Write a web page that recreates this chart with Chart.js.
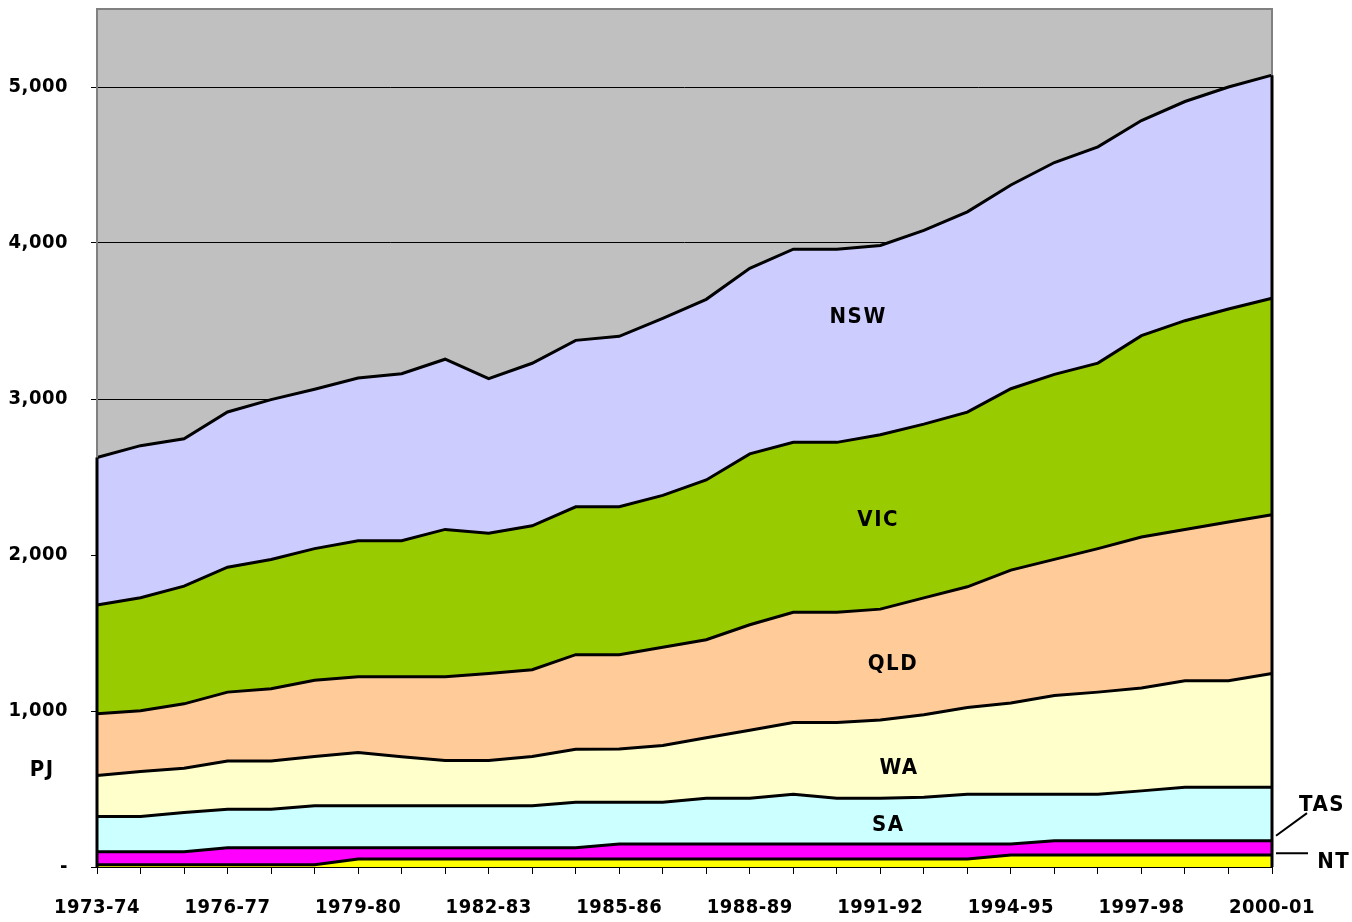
<!DOCTYPE html>
<html>
<head>
<meta charset="utf-8">
<script src="https://cdn.jsdelivr.net/npm/chart.js@4/dist/chart.umd.min.js"></script>
<style>
  html, body { margin: 0; padding: 0; background: #fff; }
  #wrap { width: 1352px; height: 922px; }
</style>
</head>
<body>
<div id="wrap"><canvas id="energyChart"></canvas></div>
<script>
// financial years on the x axis
const years = ["1973-74", "1974-75", "1975-76", "1976-77", "1977-78", "1978-79", "1979-80",
  "1980-81", "1981-82", "1982-83", "1983-84", "1984-85", "1985-86", "1986-87", "1987-88",
  "1988-89", "1989-90", "1990-91", "1991-92", "1992-93", "1993-94", "1994-95", "1995-96",
  "1996-97", "1997-98", "1998-99", "1999-00", "2000-01"];

// y axis ticks (PJ)
const yTicks = [0, 1000, 2000, 3000, 4000, 5000];

// energy use by state, PJ
const nt  = [15, 15, 15, 15, 15, 15, 51, 51, 51, 51, 51, 51, 51, 51, 51, 51, 51, 51, 51, 51, 51, 77, 77, 77, 77, 77, 77, 77];
const tas = [83, 83, 83, 109, 109, 109, 73, 73, 73, 73, 73, 73, 97, 97, 97, 97, 97, 97, 97, 97, 97, 71, 92, 92, 92, 92, 92, 92];
const sa  = [225, 225, 251, 246, 246, 268, 268, 268, 268, 268, 268, 291, 267, 267, 293, 293, 319, 293, 293, 299, 319, 319, 298, 298, 319, 342, 342, 342];
const wa  = [263, 289, 284, 310, 310, 316, 342, 314, 290, 290, 316, 340, 342, 364, 387, 436, 459, 485, 502, 529, 556, 584, 633, 654, 659, 683, 683, 729];
const qld = [396, 389, 413, 441, 463, 489, 486, 514, 538, 558, 557, 606, 604, 629, 629, 676, 707, 707, 710, 749, 773, 852, 872, 920, 968, 970, 1017, 1018];
const vic = [698, 725, 754, 801, 828, 844, 871, 871, 944, 900, 922, 948, 948, 974, 1024, 1095, 1089, 1089, 1118, 1114, 1120, 1163, 1186, 1189, 1291, 1338, 1366, 1388];
const nsw = [945, 975, 945, 995, 1025, 1022, 1044, 1071, 1091, 990, 1042, 1067, 1093, 1135, 1158, 1190, 1238, 1238, 1213, 1242, 1284, 1306, 1358, 1386, 1379, 1405, 1423, 1430];

const FONT = "'Liberation Sans Narrow', 'DejaVu Sans Condensed', 'Liberation Sans', Arial, sans-serif";

function area(label, data, color, fill) {
  return {
    label: label,
    data: data,
    backgroundColor: color,
    borderColor: "#000",
    borderWidth: 3,
    pointRadius: 0,
    tension: 0,
    fill: fill,
  };
}

// no extra room for first/last tick labels, the plot box is fixed
function noPadding(scale) {
  scale.paddingTop = 0;
  scale.paddingBottom = 0;
  scale.paddingLeft = 0;
  scale.paddingRight = 0;
}

// grey plot background + outline, drawn behind the grid
const plotBackground = {
  id: "plotBackground",
  beforeDraw(chart) {
    const { ctx, chartArea: a } = chart;
    ctx.letterSpacing = "0.5px";
    ctx.save();
    ctx.fillStyle = "#c0c0c0";
    ctx.fillRect(a.left, a.top, a.right - a.left, a.bottom - a.top);
    ctx.restore();
  },
  afterDraw(chart) {
    const { ctx, chartArea: a } = chart;
    ctx.save();
    ctx.strokeStyle = "#808080";
    ctx.lineWidth = 2;
    ctx.beginPath();
    ctx.moveTo(a.left, a.bottom);
    ctx.lineTo(a.left, a.top);
    ctx.lineTo(a.right, a.top);
    ctx.lineTo(a.right, a.bottom);
    ctx.stroke();
    // black outline of the stacked areas at both ends
    const y = chart.scales.y;
    const x = chart.scales.x;
    const last = years.length - 1;
    const top0 = nt[0] + tas[0] + sa[0] + wa[0] + qld[0] + vic[0] + nsw[0];
    const topN = nt[last] + tas[last] + sa[last] + wa[last] + qld[last] + vic[last] + nsw[last];
    ctx.strokeStyle = "#000";
    ctx.lineWidth = 3;
    ctx.beginPath();
    ctx.moveTo(x.getPixelForValue(0), y.getPixelForValue(top0));
    ctx.lineTo(x.getPixelForValue(0), a.bottom);
    ctx.moveTo(x.getPixelForValue(last), y.getPixelForValue(topN));
    ctx.lineTo(x.getPixelForValue(last), a.bottom);
    ctx.stroke();
    ctx.restore();
  }
};

// state names written on the areas
const areaLabels = {
  id: "areaLabels",
  afterDraw(chart) {
    const { ctx, chartArea: a } = chart;
    const y = chart.scales.y;
    const step = (a.right - a.left) / (years.length - 1);
    const px = (i) => a.left + i * step;
    ctx.save();
    ctx.letterSpacing = "1.5px";
    ctx.fillStyle = "#000";
    ctx.font = "bold 22px " + FONT;
    ctx.textAlign = "center";
    ctx.textBaseline = "middle";
    const items = [
      ["NSW", 17.49, 3524], ["VIC", 17.95, 2221], ["QLD", 18.29, 1297],
      ["WA", 18.43, 635], ["SA", 18.18, 270], ["TAS", 28.15, 398],
      ["NT", 28.42, 32], ["PJ", -1.26, 623]
    ];
    items.forEach(([t, i, v]) => ctx.fillText(t, px(i), y.getPixelForValue(v)));
    // leader lines for the thin bands
    ctx.strokeStyle = "#000";
    ctx.lineWidth = 2;
    ctx.beginPath();
    ctx.moveTo(a.right + 4, y.getPixelForValue(200));
    ctx.lineTo(a.right + 35, y.getPixelForValue(345));
    ctx.moveTo(a.right + 4, y.getPixelForValue(88));
    ctx.lineTo(a.right + 36, y.getPixelForValue(88));
    ctx.stroke();
    ctx.restore();
  }
};

const ctx = document.getElementById("energyChart");
new Chart(ctx, {
  type: "line",
  data: {
    labels: years,
    datasets: [
      area("NT", nt, "#ffff00", "origin"),
      area("TAS", tas, "#ff00ff", "-1"),
      area("SA", sa, "#ccffff", "-1"),
      area("WA", wa, "#ffffcc", "-1"),
      area("QLD", qld, "#ffcc99", "-1"),
      area("VIC", vic, "#99cc00", "-1"),
      area("NSW", nsw, "#ccccff", "-1"),
    ],
  },
  options: {
    responsive: true,
    maintainAspectRatio: false,
    animation: false,
    layout: { padding: { left: 0, right: 80, top: 9, bottom: 0 } },
    plugins: {
      legend: { display: false },
      tooltip: { enabled: false },
    },
    scales: {
      x: {
        type: "category",
        offset: false,
        afterFit(scale) { scale.height = 55; noPadding(scale); },
        grid: { drawOnChartArea: false, tickLength: 7, color: "#000", lineWidth: 1 },
        border: { display: true, color: "#000", width: 2 },
        ticks: {
          autoSkip: false,
          maxRotation: 0,
          padding: 22,
          color: "#000",
          font: { family: FONT, size: 20, weight: "bold" },
          callback(value, index) {
            return index % 3 === 0 ? this.getLabelForValue(value) : "";
          },
        },
      },
      y: {
        stacked: true,
        min: 0,
        max: 5500,
        afterFit(scale) { scale.width = 97; noPadding(scale); },
        afterBuildTicks(scale) {
          scale.ticks = yTicks.map((v) => ({ value: v }));
        },
        grid: {
          color: (c) => (c.tick && c.tick.value === 0 ? "rgba(0,0,0,0)" : "#000"),
          tickColor: "#000",
          lineWidth: 1,
          tickLength: 6,
        },
        border: { display: false },
        ticks: {
          padding: 23,
          color: "#000",
          font: { family: FONT, size: 20, weight: "bold" },
          callback(v) {
            return v === 0 ? "-" : v.toLocaleString("en-US");
          },
        },
      },
    },
  },
  plugins: [plotBackground, areaLabels],
});
</script>
</body>
</html>
